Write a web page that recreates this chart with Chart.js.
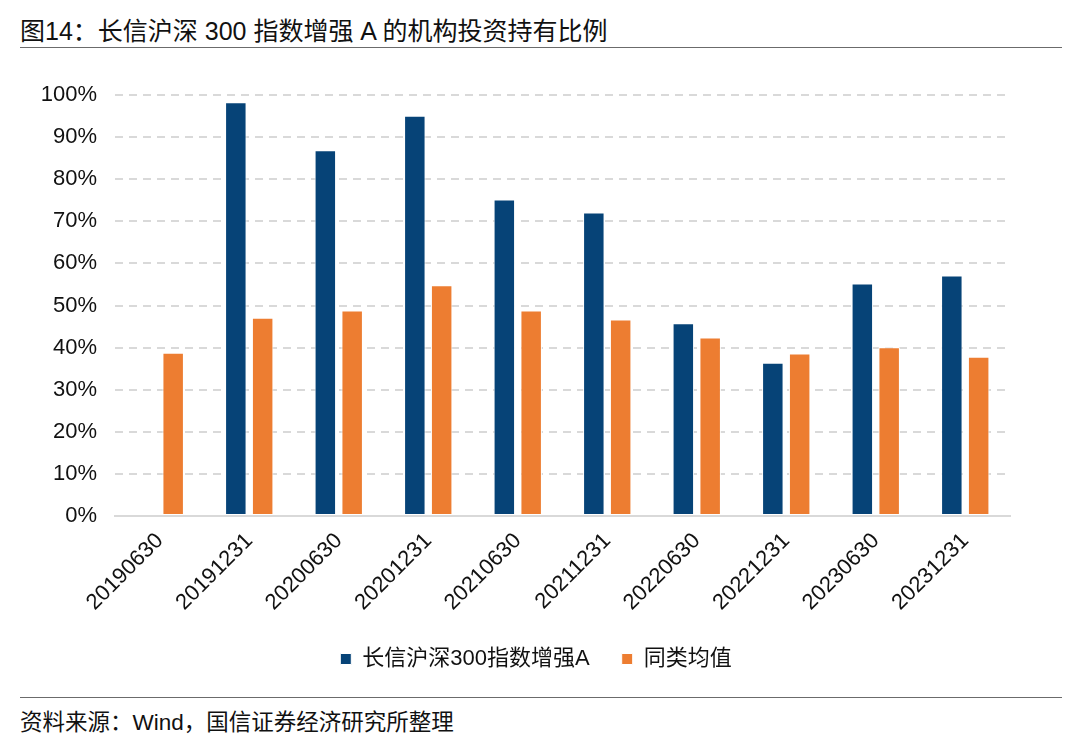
<!DOCTYPE html>
<html>
<head>
<meta charset="utf-8">
<script src="https://cdn.jsdelivr.net/npm/chart.js@4"></script>
<style>
  html, body { margin: 0; padding: 0; background: #fff; }
  body { width: 1080px; height: 745px; position: relative; overflow: hidden;
         font-family: "Liberation Sans", "Noto Sans CJK SC", sans-serif; color: #111; }
  .title { position: absolute; left: 20px; top: 11px; font-size: 25px; }
  .rule { position: absolute; left: 20px; right: 18px; height: 0; border-top: 1.5px solid #6b6b6b; }
  .source { position: absolute; left: 20px; top: 704px; font-size: 22.5px; }
  #wrap { position: absolute; left: 0; top: 60px; width: 1080px; height: 620px; }
</style>
</head>
<body>
<div class="title">图14：长信沪深 300 指数增强 A 的机构投资持有比例</div>
<div class="rule" style="top:47px"></div>
<div id="wrap"><canvas id="chart"></canvas></div>
<div class="rule" style="top:697px"></div>
<div class="source">资料来源：Wind，国信证券经济研究所整理</div>
<script>
// ── 长信沪深300指数增强A 机构投资持有比例 ──
const periods = ['20190630','20191231','20200630','20201231','20210630','20211231','20220630','20221231','20230630','20231231'];
const fundShare = [null, 98.3, 86.9, 95.1, 75.2, 72.1, 45.8, 36.4, 55.2, 57.1];
const peerAvg   = [38.8, 47.1, 48.8, 54.8, 48.8, 46.7, 42.4, 38.6, 40.1, 37.8];
const seriesNames = ['长信沪深300指数增强A', '同类均值'];

const tickFont = { family: '"Liberation Sans", "Noto Sans CJK SC", sans-serif', size: 22 };

// nudge the legend so it sits centred under the plot like the original
const legendShift = {
  id: 'legendShift',
  afterLayout(chart) {
    if (chart.legend) { chart.legend.left += 21; chart.legend.right += 21; }
  }
};

new Chart(document.getElementById('chart').getContext('2d'), {
  type: 'bar',
  data: {
    labels: periods,
    datasets: [
      { label: seriesNames[0], data: fundShare, backgroundColor: '#064377',
        borderColor: '#ffffff', borderWidth: 1, borderSkipped: false,
        categoryPercentage: 0.6, barPercentage: 0.8 },
      { label: seriesNames[1], data: peerAvg, backgroundColor: '#ed7d31',
        borderColor: '#ffffff', borderWidth: 1, borderSkipped: false,
        categoryPercentage: 0.6, barPercentage: 0.8 }
    ]
  },
  plugins: [legendShift],
  options: {
    responsive: true,
    maintainAspectRatio: false,
    animation: false,
    layout: { padding: { top: 35, right: 70, left: 20, bottom: 0 } },
    plugins: {
      tooltip: { enabled: false },
      legend: {
        position: 'bottom',
        labels: { font: tickFont, color: '#111', boxWidth: 11, boxHeight: 11, padding: 32 }
      }
    },
    scales: {
      y: {
        min: 0, max: 100,
        ticks: { stepSize: 10, font: tickFont, color: '#111', padding: 18, callback: v => v + '%' },
        grid: { color: '#d9d9d9', lineWidth: 2, drawTicks: false },
        border: { display: false, dash: [8, 6] },
        afterFit: s => { s.width = 95; }
      },
      x: {
        ticks: { font: tickFont, color: '#111', maxRotation: 45, minRotation: 45, padding: 4 },
        grid: { display: false },
        border: { color: '#d9d9d9', width: 2 },
        afterFit: s => { s.height = 100; }
      }
    }
  }
});
</script>
</body>
</html>
